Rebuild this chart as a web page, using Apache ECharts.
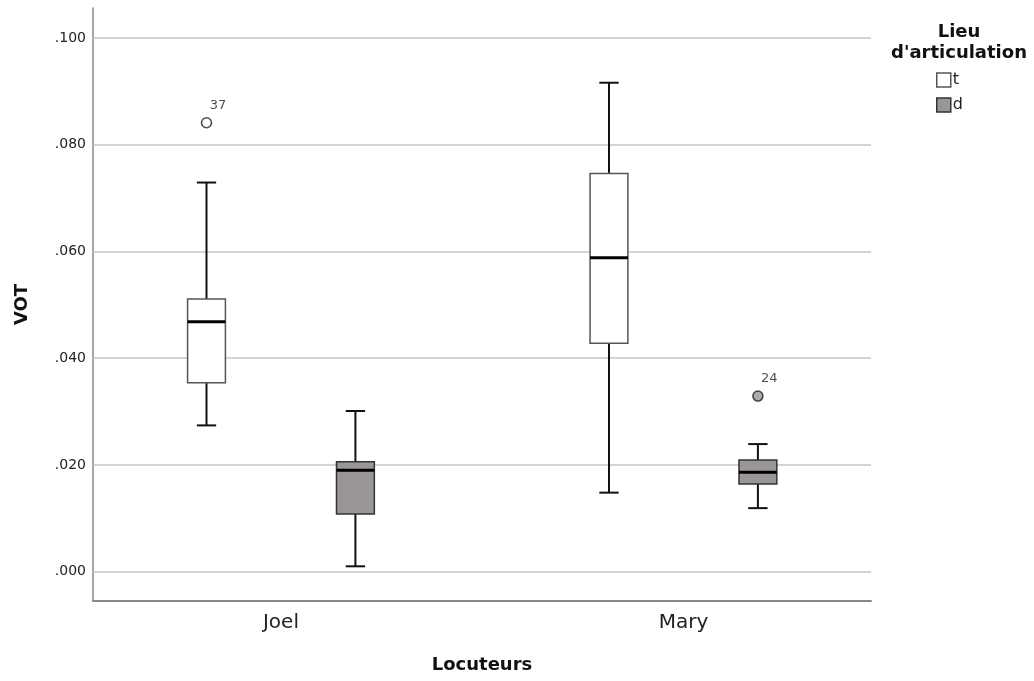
<!DOCTYPE html>
<html>
<head>
<meta charset="utf-8">
<title>VOT boxplot</title>
<script src="https://cdn.jsdelivr.net/npm/echarts@6/dist/echarts.min.js"></script>
<style>
  html, body { margin: 0; padding: 0; background: #fff; }
  #chart { width: 1034px; height: 681px; }
</style>
</head>
<body>
<div id="chart"></div>
<script>
// categories
var speakers = ['Joel', 'Mary'];
var places = ['t', 'd'];
// five-number summaries per speaker: [low whisker, Q1, median, Q3, high whisker]
var tStats = [
    [0.0274, 0.0354, 0.0468, 0.0511, 0.0729],
    [0.0148, 0.0428, 0.0588, 0.0746, 0.0916]
];
var dStats = [
    [0.0010, 0.0108, 0.0190, 0.0206, 0.0301],
    [0.0119, 0.0164, 0.0186, 0.0209, 0.0239]
];
// outliers: [speaker index, value, case number]
var tOutliers = [[0, 0.0841, '37']];
var dOutliers = [[1, 0.0329, '24']];
// y tick values
var yTicks = [0, 0.02, 0.04, 0.06, 0.08, 0.1];

var fills = { t: '#ffffff', d: '#9b9696' };
var borders = { t: '#555555', d: '#333333' };
var offsets = { t: -0.185, d: 0.185 };
var boxWidth = 0.094;
var capWidth = 0.048;

function boxData(stats, place) {
    return stats.map(function (s, i) {
        return [i + offsets[place]].concat(s);
    });
}
function outlierData(list, place) {
    return list.map(function (o) {
        return { value: [o[0] + offsets[place], o[1]], label: { formatter: o[2] } };
    });
}

function makeRender(place) {
    return function (params, api) {
        var x = api.value(0);
        var lo = api.coord([x, api.value(1)]);
        var q1 = api.coord([x, api.value(2)]);
        var med = api.coord([x, api.value(3)]);
        var q3 = api.coord([x, api.value(4)]);
        var hi = api.coord([x, api.value(5)]);
        var bw = api.size([boxWidth, 0])[0];
        var cw = api.size([capWidth, 0])[0];
        var cx = lo[0];
        var whisker = { stroke: '#111', lineWidth: 2 };
        return {
            type: 'group',
            children: [
                { type: 'line', shape: { x1: cx, y1: lo[1], x2: cx, y2: q1[1] }, style: whisker },
                { type: 'line', shape: { x1: cx, y1: hi[1], x2: cx, y2: q3[1] }, style: whisker },
                { type: 'line', shape: { x1: cx - cw / 2, y1: lo[1], x2: cx + cw / 2, y2: lo[1] }, style: whisker },
                { type: 'line', shape: { x1: cx - cw / 2, y1: hi[1], x2: cx + cw / 2, y2: hi[1] }, style: whisker },
                {
                    type: 'rect',
                    shape: { x: cx - bw / 2, y: q3[1], width: bw, height: q1[1] - q3[1] },
                    style: { fill: fills[place], stroke: borders[place], lineWidth: 1.5 }
                },
                {
                    type: 'line',
                    shape: { x1: cx - bw / 2, y1: med[1], x2: cx + bw / 2, y2: med[1] },
                    style: { stroke: '#000', lineWidth: 3 }
                }
            ]
        };
    };
}

var myChart = echarts.init(document.getElementById('chart'));

var option = {
    animation: false,
    title: {
        text: "Lieu\nd'articulation",
        left: 954,
        top: 17,
        textAlign: 'center',
        textStyle: {
            fontFamily: 'DejaVu Sans',
            fontWeight: 'bold',
            fontSize: 18,
            lineHeight: 21,
            color: '#111'
        }
    },
    legend: {
        orient: 'vertical',
        left: 936,
        top: 72,
        padding: 0,
        itemGap: 9,
        itemWidth: 14,
        itemHeight: 14,
        textStyle: { fontFamily: 'DejaVu Sans', fontSize: 16, color: '#222', padding: [0, 0, 0, -3] },
        data: places.map(function (p) {
            return {
                name: p,
                icon: 'rect',
                itemStyle: { color: fills[p], borderColor: borders[p], borderWidth: 1.5 }
            };
        })
    },
    grid: { left: 93, right: 163, top: 8, bottom: 80 },
    xAxis: {
        type: 'value',
        min: -0.467,
        max: 1.466,
        name: 'Locuteurs',
        nameLocation: 'middle',
        nameGap: 55,
        nameTextStyle: { fontFamily: 'DejaVu Sans', fontWeight: 'bold', fontSize: 18, color: '#111' },
        axisLine: { show: true, onZero: false, lineStyle: { color: '#888', width: 2 } },
        axisTick: { show: false },
        splitLine: { show: false },
        axisLabel: {
            customValues: [0, 1],
            margin: 12,
            fontFamily: 'DejaVu Sans',
            fontSize: 20,
            color: '#222',
            formatter: function (v) {
                return Math.abs(v - Math.round(v)) < 1e-6 ? (speakers[Math.round(v)] || '') : '';
            }
        }
    },
    yAxis: {
        type: 'value',
        min: -0.0055,
        max: 0.1056,
        splitNumber: 5,
        name: 'VOT',
        nameLocation: 'middle',
        nameGap: 62,
        nameTextStyle: { fontFamily: 'DejaVu Sans', fontWeight: 'bold', fontSize: 18, color: '#111' },
        axisLine: { show: true, onZero: false, lineStyle: { color: '#888', width: 1.5 } },
        axisTick: { show: false },
        splitLine: { show: false },
        axisLabel: {
            showMinLabel: false,
            showMaxLabel: false,
            margin: 7,
            fontFamily: 'DejaVu Sans',
            fontSize: 14,
            color: '#222',
            formatter: function (v) {
                var r = Math.round(v * 50);
                if (Math.abs(v * 50 - r) > 1e-6 || v < -1e-9) return '';
                return v.toFixed(3).replace(/^0/, '');
            }
        }
    },
    series: [
        {
            type: 'line',
            name: 'grid',
            z: 1,
            data: [],
            silent: true,
            markLine: {
                z: 1,
                silent: true,
                symbol: 'none',
                label: { show: false },
                lineStyle: { color: '#c6c6c6', type: 'solid', width: 1.5 },
                data: yTicks.map(function (v) { return { yAxis: v }; })
            }
        },
        {
            type: 'custom',
            name: 't',
            z: 3,
            itemStyle: { color: fills.t, borderColor: borders.t },
            renderItem: makeRender('t'),
            encode: { x: 0, y: [1, 2, 3, 4, 5] },
            data: boxData(tStats, 't')
        },
        {
            type: 'custom',
            name: 'd',
            z: 3,
            itemStyle: { color: fills.d, borderColor: borders.d },
            renderItem: makeRender('d'),
            encode: { x: 0, y: [1, 2, 3, 4, 5] },
            data: boxData(dStats, 'd')
        },
        {
            type: 'scatter',
            name: 't',
            z: 4,
            symbolSize: 10,
            itemStyle: { color: fills.t, borderColor: '#222', borderWidth: 1.6 },
            label: {
                show: true,
                position: [9, -18],
                fontFamily: 'DejaVu Sans',
                fontSize: 13,
                color: '#222'
            },
            data: outlierData(tOutliers, 't')
        },
        {
            type: 'scatter',
            name: 'd',
            z: 4,
            symbolSize: 10,
            itemStyle: { color: fills.d, borderColor: '#222', borderWidth: 1.6 },
            label: {
                show: true,
                position: [9, -18],
                fontFamily: 'DejaVu Sans',
                fontSize: 13,
                color: '#222'
            },
            data: outlierData(dOutliers, 'd')
        }
    ]
};

myChart.setOption(option);
window.addEventListener('resize', function () {
    myChart.resize();
});
</script>
</body>
</html>
